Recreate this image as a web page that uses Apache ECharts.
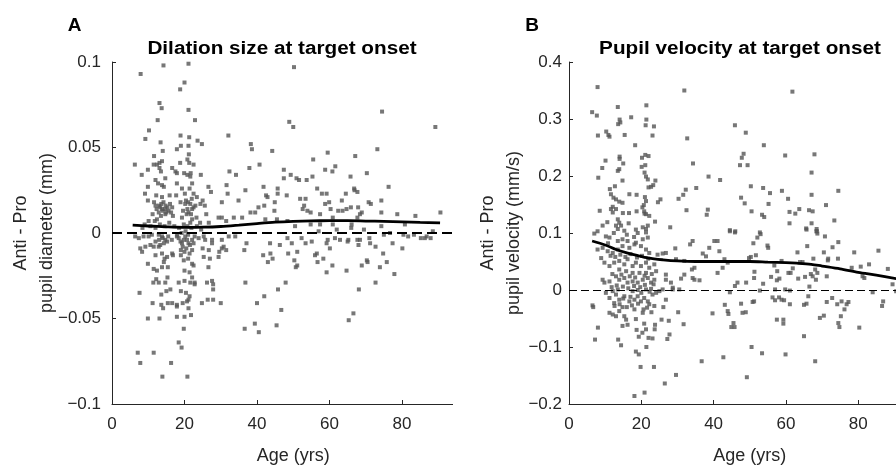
<!DOCTYPE html>
<html>
<head>
<meta charset="utf-8">
<script src="https://cdn.jsdelivr.net/npm/echarts@6/dist/echarts.min.js"></script>
<style>
  html, body { margin: 0; padding: 0; background: #fff; }
  #chart { width: 896px; height: 467px; }
</style>
</head>
<body>
<div id="chart"></div>
<script>
// panel A: [age, anti - pro pupil diameter (mm)]
const dilationPoints = [
  [7.9,0.093],[14.2,0.098],[21.1,0.099],[20.0,0.088],[18.8,0.084],[13.1,0.076],[13.7,0.073],[21.1,0.072],
  [12.6,0.066],[22.9,0.066],[10.2,0.060],[9.2,0.055],[13.4,0.053],[18.9,0.057],[21.3,0.056],[23.6,0.054],
  [24.8,0.052],[32.1,0.057],[38.3,0.052],[38.6,0.049],[44.2,0.048],[17.9,0.049],[19.0,0.051],[21.1,0.051],
  [14.0,0.048],[11.6,0.045],[21.2,0.046],[20.8,0.043],[21.3,0.041],[22.5,0.040],[6.3,0.040],[8.2,0.034],
  [9.9,0.037],[11.5,0.040],[12.4,0.040],[13.1,0.041],[13.8,0.042],[13.1,0.038],[13.5,0.036],[16.6,0.038],
  [17.5,0.036],[17.9,0.035],[18.8,0.041],[19.9,0.035],[20.8,0.034],[21.6,0.033],[21.7,0.035],[24.5,0.034],
  [37.9,0.038],[40.7,0.040],[32.4,0.036],[34.2,0.034],[9.9,0.027],[9.1,0.023],[12.0,0.031],[12.7,0.029],
  [13.8,0.028],[14.3,0.027],[14.7,0.032],[17.9,0.029],[19.3,0.026],[20.1,0.023],[22.1,0.029],[21.4,0.026],
  [26.6,0.027],[27.3,0.024],[31.6,0.028],[31.9,0.023],[36.8,0.025],[41.8,0.027],[42.5,0.022],[42.9,0.021],
  [45.7,0.026],[45.7,0.023],[12.2,0.022],[13.8,0.021],[15.9,0.022],[17.7,0.022],[22.5,0.023],[23.4,0.021],
  [9.9,0.019],[11.6,0.018],[12.0,0.016],[13.3,0.015],[13.8,0.014],[14.7,0.014],[15.6,0.013],[16.6,0.015],
  [12.9,0.012],[14.7,0.011],[16.8,0.010],[18.9,0.018],[20.2,0.017],[20.8,0.014],[21.1,0.012],[22.1,0.014],
  [22.5,0.015],[24.4,0.017],[25.0,0.019],[25.6,0.016],[30.3,0.018],[34.9,0.019],[40.4,0.015],[42.0,0.016],
  [38.2,0.012],[39.5,0.012],[44.9,0.018],[44.8,0.013],[26.0,0.011],[29.4,0.009],[30.3,0.009],[31.5,0.007],
  [33.6,0.009],[35.9,0.009],[11.8,0.007],[12.4,0.008],[10.1,0.007],[19.3,0.009],[22.1,0.008],[23.3,0.009],
  [42.3,0.008],[45.5,0.008],[21.6,0.006],[24.3,0.006],[26.7,0.006],
  [13.0,0.016],[13.6,0.017],[14.2,0.018],[14.8,0.016],[15.3,0.015],[14.0,0.013],[15.0,0.012],[12.3,0.014],
  [13.5,0.010],[16.0,0.017],[16.3,0.012],[20.4,0.019],[21.0,0.018],[21.6,0.017],[22.0,0.020],[20.6,0.011],
  [21.8,0.011],[19.6,0.013],[23.0,0.016],[11.2,0.011],[10.6,0.004],[12.0,0.003],[13.2,0.005],[14.5,0.004],
  [15.8,0.006],[17.2,0.004],[18.5,0.003],[19.8,0.005],[20.8,0.004],[21.9,0.003],[23.4,0.004],[24.6,0.002],
  [9.0,0.005],[8.4,0.003],
  [50.2,0.097],[74.5,0.071],[89.2,0.062],[48.9,0.065],[50.0,0.062],[73.2,0.049],[59.5,0.047],[67.1,0.045],
  [55.5,0.043],[47.4,0.037],[47.4,0.032],[49.3,0.034],[50.9,0.032],[51.6,0.031],[53.7,0.031],[55.3,0.033],
  [58.8,0.037],[60.8,0.036],[61.6,0.039],[65.8,0.033],[70.3,0.035],[76.3,0.027],[48.2,0.022],[56.6,0.026],
  [57.9,0.023],[59.2,0.023],[64.5,0.023],[66.8,0.026],[66.9,0.025],[67.7,0.024],[51.9,0.020],[53.4,0.020],
  [53.0,0.016],[52.6,0.014],[53.9,0.013],[54.8,0.012],[58.8,0.017],[59.9,0.018],[60.3,0.014],[63.4,0.019],
  [62.4,0.013],[63.6,0.013],[64.7,0.014],[65.9,0.015],[67.9,0.015],[68.9,0.012],[70.8,0.018],[71.4,0.017],
  [74.3,0.019],[74.3,0.012],[57.4,0.011],[67.7,0.009],[68.4,0.011],[78.7,0.011],[83.7,0.010],[90.6,0.012],
  [48.4,0.007],[50.5,0.004],[54.8,0.005],[57.4,0.005],[60.9,0.009],[60.9,0.005],[66.1,0.005],[74.3,0.004],
  [80.8,0.005],
  [7.1,-0.070],[7.8,-0.076],[11.5,-0.070],[13.9,-0.084],[16.3,-0.076],[18.4,-0.064],[19.2,-0.067],[19.8,-0.056],
  [20.8,-0.084],[7.6,-0.035],[9.9,-0.050],[13.1,-0.050],[17.9,-0.049],[20.0,-0.049],[21.8,-0.048],[21.1,-0.044],
  [11.2,-0.041],[14.1,-0.044],[13.6,-0.042],[15.4,-0.041],[16.6,-0.041],[17.9,-0.042],[17.9,-0.043],[19.5,-0.041],
  [20.7,-0.040],[21.4,-0.037],[21.1,-0.039],[20.4,-0.035],[19.0,-0.034],[15.0,-0.034],[16.1,-0.033],[13.6,-0.036],
  [24.8,-0.041],[26.4,-0.039],[27.9,-0.039],[30.0,-0.041],[11.4,-0.029],[12.2,-0.027],[12.9,-0.029],[14.7,-0.029],
  [15.3,-0.026],[18.4,-0.029],[20.0,-0.028],[21.6,-0.029],[22.8,-0.029],[22.8,-0.030],[22.1,-0.026],[21.4,-0.023],
  [26.2,-0.029],[27.6,-0.028],[27.9,-0.030],[27.9,-0.033],[9.9,-0.018],[11.5,-0.021],[12.4,-0.022],[13.8,-0.020],
  [14.3,-0.017],[15.2,-0.014],[15.4,-0.020],[12.0,-0.013],[13.8,-0.012],[14.5,-0.015],[16.6,-0.012],[16.8,-0.013],
  [19.0,-0.013],[19.8,-0.016],[20.0,-0.022],[22.1,-0.018],[22.5,-0.019],[21.4,-0.012],[22.1,-0.010],[21.0,-0.015],
  [25.0,-0.009],[26.7,-0.010],[25.3,-0.014],[27.0,-0.015],[26.6,-0.020],[29.4,-0.014],[29.6,-0.011],[30.3,-0.009],
  [31.5,-0.010],[30.8,-0.008],[7.8,-0.009],[8.3,-0.011],[9.2,-0.008],[10.6,-0.007],[11.5,-0.008],[12.9,-0.008],
  [13.3,-0.007],[27.6,-0.006],[27.6,-0.004],[30.3,-0.004],[32.2,-0.002],[34.0,-0.002],[36.8,-0.029],[36.5,-0.010],
  [37.1,-0.006],[36.6,-0.056],[39.4,-0.053],[40.5,-0.058],[40.0,-0.041],[42.0,-0.037],[43.6,-0.006],[43.7,-0.012],
  [43.0,-0.017],[44.3,-0.015],[41.7,-0.013],[45.4,-0.054],[45.8,-0.033],[46.7,-0.045],
  [6.4,-0.002],[7.4,-0.003],[8.7,-0.002],[10.1,-0.002],[11.0,-0.001],[12.9,-0.001],[13.8,-0.002],[14.7,-0.004],
  [15.2,-0.005],[14.3,-0.006],[17.9,-0.002],[18.4,-0.003],[18.9,-0.005],[19.3,-0.006],[19.8,-0.004],[20.2,-0.002],
  [20.7,-0.004],[21.1,-0.006],[22.1,-0.004],[23.9,-0.003],[25.3,-0.002],[25.7,-0.004],
  [19.5,-0.008],[20.5,-0.009],[21.5,-0.007],[20.0,-0.011],[19.0,-0.010],[22.5,-0.006],[21.0,-0.001],[20.3,0.001],
  [19.2,0.000],[18.0,-0.001],[22.8,-0.002],[14.0,-0.003],[15.5,-0.002],[16.5,-0.004],[13.0,-0.004],[12.0,-0.005],
  [65.3,-0.051],[66.6,-0.047],[47.9,-0.029],[68.1,-0.033],[72.7,-0.029],[77.9,-0.024],[59.2,-0.023],[64.7,-0.022],
  [60.8,-0.019],[73.9,-0.020],[75.8,-0.017],[74.8,-0.012],[68.9,-0.019],[70.3,-0.016],[70.5,-0.017],[56.7,-0.017],
  [58.3,-0.015],[56.0,-0.013],[56.5,-0.012],[50.3,-0.016],[51.1,-0.019],[50.7,-0.020],[48.6,-0.012],[51.1,-0.011],
  [46.3,-0.007],[49.6,-0.006],[53.4,-0.006],[55.1,-0.005],[60.1,-0.009],[59.2,-0.006],[59.5,-0.004],[61.5,-0.003],
  [62.9,-0.004],[65.2,-0.004],[65.0,-0.005],[67.7,-0.004],[68.4,-0.004],[68.0,-0.007],[71.0,-0.003],[71.2,-0.006],
  [72.7,-0.008],[77.4,-0.006],[80.1,-0.009],[48.4,-0.003],[52.3,-0.003],[75.0,-0.001],[76.7,0.000],[80.4,-0.001],
  [81.7,-0.002],[83.3,-0.001],[85.2,-0.003],[86.3,-0.003],[87.9,-0.003],[86.8,-0.002],
  [57.0,0.001],[62.0,0.002],[69.5,0.002],[66.0,0.003],[88.5,0.001]
];

// panel B: [age, anti - pro pupil velocity (mm/s)]
const velocityPoints = [
  [7.9,0.356],[31.9,0.350],[6.4,0.312],[7.7,0.306],[13.5,0.321],[21.4,0.324],[17.2,0.303],[14.0,0.299],
  [13.6,0.291],[14.2,0.294],[21.4,0.299],[21.2,0.289],[23.5,0.287],[8.0,0.271],[10.3,0.278],[10.9,0.272],
  [11.2,0.269],[15.4,0.272],[23.1,0.271],[32.7,0.266],[18.3,0.254],[10.1,0.227],[14.0,0.234],[14.0,0.230],
  [15.0,0.222],[9.2,0.214],[13.5,0.209],[13.9,0.212],[20.1,0.216],[20.2,0.232],[21.1,0.237],[22.0,0.235],
  [21.1,0.219],[34.3,0.222],[8.1,0.197],[14.8,0.192],[20.9,0.206],[21.3,0.199],[21.8,0.194],[23.9,0.192],
  [23.3,0.184],[22.7,0.181],[22.0,0.180],[38.6,0.199],[41.8,0.193],[12.7,0.182],[11.3,0.177],[11.6,0.168],
  [12.3,0.162],[13.0,0.159],[13.9,0.155],[14.8,0.153],[16.7,0.168],[18.7,0.167],[21.0,0.163],[21.3,0.156],
  [20.7,0.149],[20.3,0.145],[20.8,0.138],[21.3,0.133],[22.2,0.130],[25.3,0.159],[24.6,0.154],[30.3,0.160],
  [31.6,0.167],[32.3,0.176],[35.2,0.179],[32.5,0.140],[38.4,0.141],[38.1,0.132],[8.5,0.139],[12.1,0.146],
  [13.0,0.142],[12.1,0.136],[11.6,0.142],[14.9,0.135],[16.6,0.135],[18.7,0.138],[20.9,0.134],[23.8,0.120],
  [10.6,0.119],[9.3,0.113],[13.5,0.124],[13.9,0.118],[13.0,0.113],[14.4,0.113],[13.5,0.107],[16.5,0.117],
  [15.3,0.104],[28.0,0.110],[7.9,0.103],[18.5,0.106],[20.4,0.110],[21.3,0.107],[21.8,0.113],
  [61.8,0.348],[45.9,0.289],[48.9,0.276],[53.9,0.254],[47.8,0.232],[48.3,0.239],[47.3,0.219],[49.4,0.219],
  [59.8,0.236],[67.9,0.238],[67.1,0.206],[50.3,0.182],[53.7,0.179],[55.6,0.170],[58.9,0.174],[74.5,0.174],
  [47.6,0.162],[48.6,0.152],[55.2,0.151],[60.6,0.160],[67.1,0.167],[71.1,0.149],[50.5,0.138],[53.4,0.132],
  [54.0,0.128],[61.0,0.137],[62.6,0.134],[63.7,0.142],[66.4,0.140],[67.4,0.138],[61.0,0.117],[67.1,0.117],
  [73.4,0.122],[65.6,0.108],[68.5,0.107],[68.5,0.103],[44.5,0.105],[46.0,0.103],[52.8,0.101],
  [18.1,-0.186],[20.9,-0.180],[26.5,-0.164],[29.6,-0.149],[19.8,-0.135],[23.5,-0.135],[18.5,-0.108],[19.3,-0.113],
  [36.7,-0.125],[42.7,-0.118],[7.2,-0.087],[8.0,-0.066],[13.6,-0.087],[14.4,-0.097],[21.4,-0.100],[19.3,-0.082],
  [20.3,-0.075],[21.3,-0.069],[20.8,-0.059],[22.0,-0.084],[23.1,-0.085],[23.7,-0.069],[23.8,-0.061],[18.7,-0.070],
  [27.2,-0.086],[27.8,-0.078],[27.6,-0.054],[25.6,-0.052],[26.1,-0.030],[31.7,-0.060],[30.2,-0.039],[39.7,-0.041],
  [43.1,-0.026],[43.9,-0.037],[44.1,-0.042],[44.9,-0.065],[6.5,-0.027],[6.7,-0.030],[11.2,-0.040],[12.1,-0.043],
  [13.0,-0.046],[13.9,-0.037],[14.8,-0.030],[15.3,-0.046],[15.8,-0.052],[14.8,-0.063],[16.2,-0.061],[18.1,-0.034],
  [18.5,-0.051],[20.6,-0.034],[20.4,-0.040],[22.8,-0.039],[22.2,-0.025],[12.5,-0.023],[11.2,-0.014],[13.0,-0.008],
  [13.9,-0.017],[15.3,-0.011],[16.7,-0.020],[18.1,-0.017],[19.0,-0.011],[19.9,-0.020],[20.8,-0.014],[21.8,-0.020],
  [23.1,-0.008],[24.1,-0.005],[10.2,-0.005],[12.1,-0.002],[13.5,0.001],[17.6,-0.002],[19.0,0.000],[21.3,0.001],
  [22.7,0.002],[25.0,-0.002],[25.9,0.001],[28.7,0.001],[30.5,0.001],[26.8,-0.017],[23.6,-0.028],
  [9.3,0.018],[9.8,0.013],[11.2,0.015],[13.0,0.024],[13.9,0.018],[15.3,0.021],[16.2,0.013],[17.6,0.015],
  [19.0,0.013],[20.4,0.018],[21.8,0.021],[22.7,0.013],[23.6,0.018],[26.8,0.027],[26.8,0.018],[28.2,0.013],
  [28.7,0.004],[31.0,0.020],[31.9,0.027],[34.2,0.021],[34.7,0.018],[36.1,0.017],[8.9,0.056],[9.8,0.048],
  [11.2,0.042],[12.5,0.048],[13.9,0.051],[15.3,0.045],[16.2,0.054],[17.6,0.042],[18.5,0.048],[19.9,0.042],
  [21.3,0.048],[22.2,0.039],[23.6,0.045],[24.1,0.033],[21.3,0.030],[19.5,0.030],[17.6,0.030],[15.8,0.033],
  [13.9,0.036],[7.9,0.071],[9.3,0.074],[10.7,0.068],[12.1,0.065],[13.5,0.071],[14.8,0.077],[16.7,0.074],
  [18.1,0.080],[19.9,0.077],[21.3,0.071],[22.2,0.065],[7.0,0.099],[10.2,0.094],[11.2,0.092],[13.5,0.086],
  [14.8,0.089],[16.2,0.086],[18.5,0.083],[20.4,0.089],[21.8,0.092],[19.0,0.100],[21.3,0.101],[24.5,0.062],
  [25.9,0.064],[26.8,0.065],[29.4,0.073],[31.9,0.051],[33.5,0.080],[34.2,0.086],[34.0,0.036],[34.7,0.039],
  [37.0,0.064],[37.9,0.059],[38.8,0.074],[40.2,0.086],[41.1,0.086],[41.6,0.068],[43.0,0.054],[43.9,0.048],
  [42.5,0.039],[41.1,0.030],[29.6,0.054],
  [11.5,0.060],[12.8,0.058],[14.2,0.062],[15.6,0.058],[17.0,0.063],[18.8,0.057],[20.2,0.060],[21.9,0.055],
  [12.0,0.028],[14.5,0.027],[16.8,0.024],[18.3,0.022],[20.9,0.025],[22.9,0.028],[11.8,0.005],[13.2,0.008],
  [14.9,0.006],[16.4,0.003],[18.0,0.007],[19.7,0.005],[21.0,0.009],[22.3,-0.003],[23.4,0.010],[12.6,-0.028],
  [14.0,-0.025],[16.0,-0.030],[17.4,-0.027],[19.1,-0.024],[21.6,-0.031],[15.0,-0.015],[17.0,-0.012],[20.0,-0.005],
  [10.8,0.082],[16.0,0.097],[18.0,0.093],[12.4,0.100],
  [49.2,-0.153],[50.5,-0.100],[53.4,-0.111],[59.9,-0.113],[68.1,-0.125],[65.0,-0.081],[80.3,-0.066],[57.5,-0.052],
  [59.3,-0.052],[59.3,-0.059],[69.4,-0.049],[70.5,-0.045],[74.5,-0.058],[74.8,-0.065],[75.2,-0.046],[76.2,-0.034],
  [77.3,-0.021],[76.8,-0.025],[75.4,-0.020],[74.2,-0.025],[72.8,-0.014],[71.3,-0.021],[45.5,-0.058],[45.8,-0.065],
  [48.0,-0.040],[48.9,-0.039],[47.6,-0.024],[50.8,-0.021],[51.2,-0.020],[56.3,-0.013],[57.0,-0.018],[58.1,-0.013],
  [58.8,-0.017],[59.5,-0.018],[61.1,-0.025],[65.0,-0.026],[65.7,-0.024],[66.2,-0.011],[66.5,0.006],[57.0,0.001],
  [59.8,0.001],[52.8,-0.001],[61.1,-0.001],[84.0,-0.004],[86.9,-0.020],[86.6,-0.028],[90.5,-0.002],[44.5,-0.004],
  [45.9,0.007],[46.6,0.013],[49.0,0.013],[51.2,0.021],[51.3,0.032],[53.7,0.011],[55.9,0.023],[57.5,0.017],
  [58.2,0.020],[63.4,0.020],[65.3,0.023],[66.9,0.028],[67.4,0.024],[68.1,0.036],[68.7,0.030],[68.3,0.018],
  [71.3,0.024],[56.8,0.043],[57.6,0.033],[58.8,0.051],[60.7,0.030],[61.3,0.030],[61.9,0.038],[63.9,0.049],
  [64.6,0.049],[50.3,0.058],[49.8,0.056],[51.7,0.061],[78.2,0.039],[80.7,0.041],[83.0,0.045],[81.2,0.024],
  [81.7,0.021],[88.2,0.037],[67.6,0.055],[70.5,0.066],[71.7,0.055],[71.6,0.052],[74.4,0.055],[63.2,0.066],
  [65.9,0.077],[72.9,0.075],[74.5,0.084],[78.9,0.066],[85.6,0.069],[54.9,0.078],[55.1,0.074],[51.0,0.082],
  [52.1,0.092],[53.0,0.098],[65.7,0.106],[68.5,0.103],[68.7,0.099],[70.8,0.094],[45.9,0.101],[44.5,0.103],
  [89.5,0.010]
];

// running-average trend lines
const dilationTrendAge   = [5.7, 10, 15, 20, 25, 30, 35, 40, 45, 50, 55, 60, 65, 70, 75, 80, 85, 90.5];
const dilationTrendValue = [0.0046, 0.0041, 0.0036, 0.0033, 0.0034, 0.0038, 0.0046, 0.0055, 0.0063,
                            0.0068, 0.0071, 0.0072, 0.0072, 0.0070, 0.0068, 0.0065, 0.0062, 0.0059];
const velocityTrendAge   = [6.4, 10, 13, 16, 18.5, 22, 26, 30, 35, 40, 45, 50, 55, 60, 63, 67, 70, 75, 80, 85, 90.5];
const velocityTrendValue = [0.086, 0.079, 0.071, 0.065, 0.061, 0.056, 0.053, 0.051, 0.050, 0.050, 0.050,
                            0.050, 0.049, 0.048, 0.047, 0.045, 0.042, 0.037, 0.031, 0.026, 0.020];

const panelLetters = ['A', 'B'];
const panelTitles = ['Dilation size at target onset', 'Pupil velocity at target onset'];
const yNames = ['Anti - Pro\npupil diameter (mm)', 'Anti - Pro\npupil velocity (mm/s)'];
const xName = 'Age (yrs)';
const ageRange = [0, 100, 20];
const dilationRange = [-0.1, 0.1, 0.05];
const velocityRange = [-0.2, 0.4, 0.1];

const zip = (xs, ys) => xs.map((x, i) => [x, ys[i]]);
const axisColor = '#262626';
const font = 'Liberation Sans';
const tickFmt = (v) => String(+v.toFixed(3)).replace('-', '\u2212');

function xAxisFor(gridIndex) {
  return {
    gridIndex, type: 'value', min: ageRange[0], max: ageRange[1], interval: ageRange[2],
    name: xName, nameLocation: 'middle', nameGap: 43, nameMoveOverlap: false,
    nameTextStyle: { fontFamily: font, fontSize: 18, color: axisColor, padding: [0, 0, 0, 0] },
    axisLine: { onZero: false, lineStyle: { color: axisColor, width: 1 } },
    axisTick: { inside: true, length: 4, lineStyle: { color: axisColor } },
    axisLabel: { fontFamily: font, fontSize: 17, color: axisColor, margin: 12 },
    splitLine: { show: false }
  };
}
function yAxisFor(gridIndex, range, name, gap, margin) {
  return {
    gridIndex, type: 'value', min: range[0], max: range[1], interval: range[2],
    name, nameLocation: 'middle', nameRotate: 90, nameGap: gap, nameMoveOverlap: false,
    nameTextStyle: { fontFamily: font, fontSize: 18, lineHeight: 26, color: axisColor, align: 'center' },
    axisLine: { onZero: false, lineStyle: { color: axisColor, width: 1 } },
    axisTick: { inside: true, length: 4, lineStyle: { color: axisColor } },
    axisLabel: { fontFamily: font, fontSize: 17, color: axisColor, margin, formatter: tickFmt },
    splitLine: { show: false }
  };
}
function scatterFor(i, data, dash, dashWidth) {
  return {
    type: 'scatter', xAxisIndex: i, yAxisIndex: i, data,
    symbol: 'rect', symbolSize: 4, itemStyle: { color: '#555555' }, z: 2,
    markLine: {
      silent: true, symbol: 'none', label: { show: false }, z: 3,
      lineStyle: { color: '#000', width: dashWidth, type: dash },
      data: [{ yAxis: 0 }]
    }
  };
}
function trendFor(i, data) {
  return {
    type: 'line', xAxisIndex: i, yAxisIndex: i, data, smooth: 0.3,
    showSymbol: false, lineStyle: { color: '#000', width: 2.8 }, z: 4
  };
}

const chart = echarts.init(document.getElementById('chart'), null, { renderer: 'canvas' });
chart.setOption({
  animation: false,
  backgroundColor: '#fff',
  grid: [
    { left: 112, top: 62, width: 362.5, height: 342, outerBoundsMode: 'none', containLabel: false },
    { left: 569, top: 62, width: 361.5, height: 342, outerBoundsMode: 'none', containLabel: false }
  ],
  xAxis: [xAxisFor(0), xAxisFor(1)],
  yAxis: [
    yAxisFor(0, dilationRange, yNames[0], 52, 11),
    yAxisFor(1, velocityRange, yNames[1], 42, 7)
  ],
  series: [
    scatterFor(0, dilationPoints, [10, 5], 2),
    trendFor(0, zip(dilationTrendAge, dilationTrendValue)),
    scatterFor(1, velocityPoints, [8, 4], 1.2),
    trendFor(1, zip(velocityTrendAge, velocityTrendValue))
  ],
  graphic: [
    // panel B's white background hides the right end of panel A's axes
    { type: 'rect', z: 100, shape: { x: 453, y: 40, width: 23, height: 280 }, style: { fill: '#fff' } },
    { type: 'rect', z: 100, shape: { x: 453, y: 320, width: 47, height: 125 }, style: { fill: '#fff' } },
    { type: 'text', z: 101, x: 74.5, y: 26, style: { text: panelLetters[0], font: 'bold 19px "Liberation Sans"', fill: '#000', align: 'center', verticalAlign: 'middle' } },
    { type: 'text', z: 101, x: 532, y: 26, style: { text: panelLetters[1], font: 'bold 19px "Liberation Sans"', fill: '#000', align: 'center', verticalAlign: 'middle' } },
    { type: 'text', z: 101, x: 282, y: 49, scaleX: 1.15, style: { text: panelTitles[0], font: 'bold 18px "Liberation Sans"', fill: '#000', align: 'center', verticalAlign: 'middle' } },
    { type: 'text', z: 101, x: 740, y: 49, scaleX: 1.15, style: { text: panelTitles[1], font: 'bold 18px "Liberation Sans"', fill: '#000', align: 'center', verticalAlign: 'middle' } }
  ]
});
</script>
</body>
</html>
